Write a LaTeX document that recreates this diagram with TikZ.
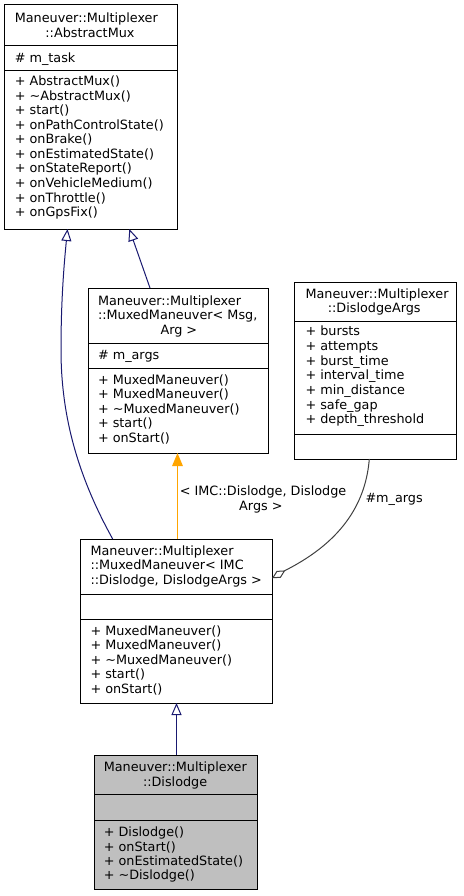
\documentclass[tikz,border=0pt]{standalone}
\usepackage{fontspec}
\setmainfont{DejaVu Sans}
\usetikzlibrary{arrows.meta}
\definecolor{navy}{HTML}{191970}
\definecolor{edgeorange}{HTML}{FFA500}
\definecolor{agggray}{HTML}{404040}
\definecolor{boxgray}{HTML}{BFBFBF}
\begin{document}
\begin{tikzpicture}[x=1pt,y=-1pt,
  umlbox/.style={draw=black, line width=1pt, inner sep=0pt, outer sep=0pt},
  t/.style={anchor=base west, inner sep=0pt, outer sep=0pt, font=\fontsize{12.8}{14.5}\selectfont},
  inh/.style={color=navy, line width=1pt, -{Triangle[open, length=12pt, width=10pt]}},
  tmpl/.style={color=edgeorange, line width=1.5pt, -{Triangle[length=13pt, width=10.5pt]}},
  agg/.style={color=agggray, line width=1pt, {Diamond[open, length=15.5pt, width=8pt]}-}]
\fill[white] (0,0) rectangle (463,896);
\useasboundingbox (0,0) rectangle (463,896);

% boxes
\node[umlbox, fill=white, minimum width=173pt, minimum height=224pt] (A) at (90.5,117) {};
\node[umlbox, fill=white, minimum width=180pt, minimum height=165pt] (B) at (178,370.5) {};
\node[umlbox, fill=white, minimum width=162pt, minimum height=177pt] (C) at (375,370.5) {};
\node[umlbox, fill=white, minimum width=192pt, minimum height=164pt] (D) at (176,621) {};
\node[umlbox, fill=boxgray, minimum width=163pt, minimum height=134pt] (E) at (175.5,822) {};

% dividers
\draw[line width=1pt] (A.west |- 0,46) -- (A.east |- 0,46);
\draw[line width=1pt] (A.west |- 0,71) -- (A.east |- 0,71);
\draw[line width=1pt] (B.west |- 0,343) -- (B.east |- 0,343);
\draw[line width=1pt] (B.west |- 0,368) -- (B.east |- 0,368);
\draw[line width=1pt] (C.west |- 0,321) -- (C.east |- 0,321);
\draw[line width=1pt] (C.west |- 0,434) -- (C.east |- 0,434);
\draw[line width=1pt] (D.west |- 0,594) -- (D.east |- 0,594);
\draw[line width=1pt] (D.west |- 0,619) -- (D.east |- 0,619);
\draw[line width=1pt] (E.west |- 0,794) -- (E.east |- 0,794);
\draw[line width=1pt] (E.west |- 0,820) -- (E.east |- 0,820);

% box A text
\node[t] (Ah1) at (14.8,22.7) {Maneuver::Multiplexer};
\node[t] (Ah2) at (45.4,37.3) {::AbstractMux};
\node[t] (Aa1) at (14.8,62.3) {\# m\_task};
\foreach \s [count=\i from 0] in {{+ AbstractMux()},{+ \textasciitilde AbstractMux()},{+ start()},{+ onPathControlState()},{+ onBrake()},{+ onEstimatedState()},{+ onStateReport()},{+ onVehicleMedium()},{+ onThrottle()},{+ onGpsFix()}}
  \node[t] (Am\i) at ({14.8},{86+14.5*\i}) {\s};

% box B text
\node[t] (Bh1) at (98,305) {Maneuver::Multiplexer};
\node[t] (Bh2) at (98,319.5) {::MuxedManeuver< Msg,};
\node[t] (Bh3) at (160.5,334) {Arg >};
\node[t] (Ba1) at (98,359) {\# m\_args};
\foreach \s [count=\i from 0] in {{+ MuxedManeuver()},{+ MuxedManeuver()},{+ \textasciitilde MuxedManeuver()},{+ start()},{+ onStart()}}
  \node[t] (Bm\i) at ({98},{384+14.6*\i}) {\s};

% box C text
\node[t] (Ch1) at (305.5,298.3) {Maneuver::Multiplexer};
\node[t] (Ch2) at (327.8,312.7) {::DislodgeArgs};
\foreach \s [count=\i from 0] in {{+ bursts},{+ attempts},{+ burst\_time},{+ interval\_time},{+ min\_distance},{+ safe\_gap},{+ depth\_threshold}}
  \node[t] (Ca\i) at ({305.5},{335.7+14.7*\i}) {\s};

% box D text
\node[t] (Dh1) at (90.5,555) {Maneuver::Multiplexer};
\node[t] (Dh2) at (90.5,569.5) {::MuxedManeuver< IMC};
\node[t] (Dh3) at (90.5,584.3) {::Dislodge, DislodgeArgs >};
\foreach \s [count=\i from 0] in {{+ MuxedManeuver()},{+ MuxedManeuver()},{+ \textasciitilde MuxedManeuver()},{+ start()},{+ onStart()}}
  \node[t] (Dm\i) at ({90.5},{635+14.6*\i}) {\s};

% box E text
\node[t] (Eh1) at (103.8,771.7) {Maneuver::Multiplexer};
\node[t] (Eh2) at (143,786) {::Dislodge};
\foreach \s [count=\i from 0] in {{+ Dislodge()},{+ onStart()},{+ onEstimatedState()},{+ \textasciitilde Dislodge()}}
  \node[t] (Em\i) at ({103.8},{836.7+14.4*\i}) {\s};

% connectors
\draw[inh] (150,0 |- B.north) -- (129.3,0 |- A.south);
\draw[inh] (112.7,0 |- D.north) .. controls (80,480) and (61,420) .. (61,350)
           .. controls (61,300) and (64,265) .. (67.5,0 |- A.south);
\draw[tmpl] (177.5,0 |- D.north) -- (177.5,0 |- B.south);
\draw[inh] (176.5,0 |- E.north) -- (176.5,0 |- D.south);
\coordinate (dmd) at (286,570);
\draw[agg] (D.east |- 0,578.3) -- (dmd) .. controls (345,540) and (366,500) .. (369.3,0 |- C.south);

% edge labels
\node[t] (L1) at (179.8,495.5) {< IMC::Dislodge, Dislodge};
\node[t] (L2) at (239.2,510) {Args >};
\node[t] (L3) at (365.5,502.7) {\#m\_args};
\end{tikzpicture}
\end{document}
